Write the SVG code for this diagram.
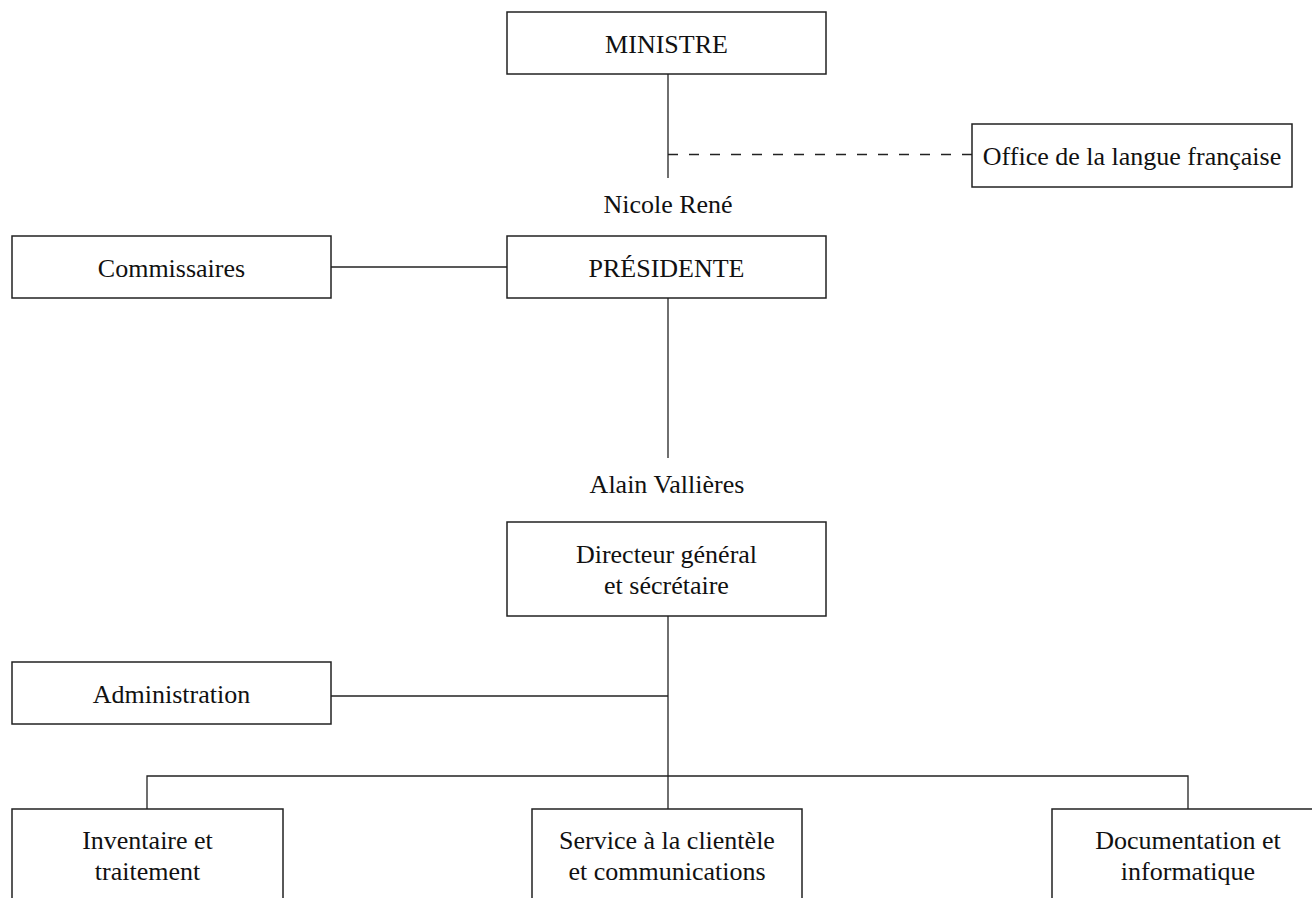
<svg xmlns="http://www.w3.org/2000/svg" width="1312" height="898" viewBox="0 0 1312 898">
<style>
.box{fill:#fff;stroke:#222;stroke-width:1.5}
.ln{fill:none;stroke:#222;stroke-width:1.3}
.dash{stroke-dasharray:10 11}
text{font-family:"Liberation Serif","Times New Roman",serif;font-size:26px;fill:#111;text-anchor:middle}
</style>
<rect width="1312" height="898" fill="#fff"/>
<g id="connectors">
<line class="ln" x1="668" y1="74" x2="668" y2="178"/>
<line class="ln dash" x1="668" y1="154.5" x2="972" y2="154.5"/>
<line class="ln" x1="331" y1="267" x2="507" y2="267"/>
<line class="ln" x1="668" y1="298" x2="668" y2="458"/>
<line class="ln" x1="668" y1="616" x2="668" y2="809"/>
<line class="ln" x1="331" y1="696" x2="668" y2="696"/>
<polyline class="ln" points="147,809 147,776 1188,776 1188,809"/>
</g>
<g id="ministre">
<rect class="box" x="507" y="12" width="319" height="62"/>
<text x="666.5" y="53">MINISTRE</text>
</g>
<g id="office">
<rect class="box" x="972" y="124" width="320" height="63"/>
<text x="1132" y="165">Office de la langue française</text>
</g>
<g id="nicole">
<text x="668" y="213">Nicole René</text>
</g>
<g id="presidente">
<rect class="box" x="507" y="236" width="319" height="62"/>
<text x="666.5" y="277">PRÉSIDENTE</text>
</g>
<g id="commissaires">
<rect class="box" x="12" y="236" width="319" height="62"/>
<text x="171.5" y="277">Commissaires</text>
</g>
<g id="alain">
<text x="667" y="493">Alain Vallières</text>
</g>
<g id="directeur">
<rect class="box" x="507" y="522" width="319" height="94"/>
<text x="666.5" y="563">Directeur général</text>
<text x="666.5" y="594">et sécrétaire</text>
</g>
<g id="administration">
<rect class="box" x="12" y="662" width="319" height="62"/>
<text x="171.5" y="703">Administration</text>
</g>
<g id="inventaire">
<rect class="box" x="12" y="809" width="271" height="110"/>
<text x="147.5" y="849">Inventaire et</text>
<text x="147.5" y="880">traitement</text>
</g>
<g id="service">
<rect class="box" x="532" y="809" width="270" height="110"/>
<text x="667" y="849">Service à la clientèle</text>
<text x="667" y="880">et communications</text>
</g>
<g id="documentation">
<rect class="box" x="1052" y="809" width="272" height="110"/>
<text x="1188" y="849">Documentation et</text>
<text x="1188" y="880">informatique</text>
</g>
</svg>
